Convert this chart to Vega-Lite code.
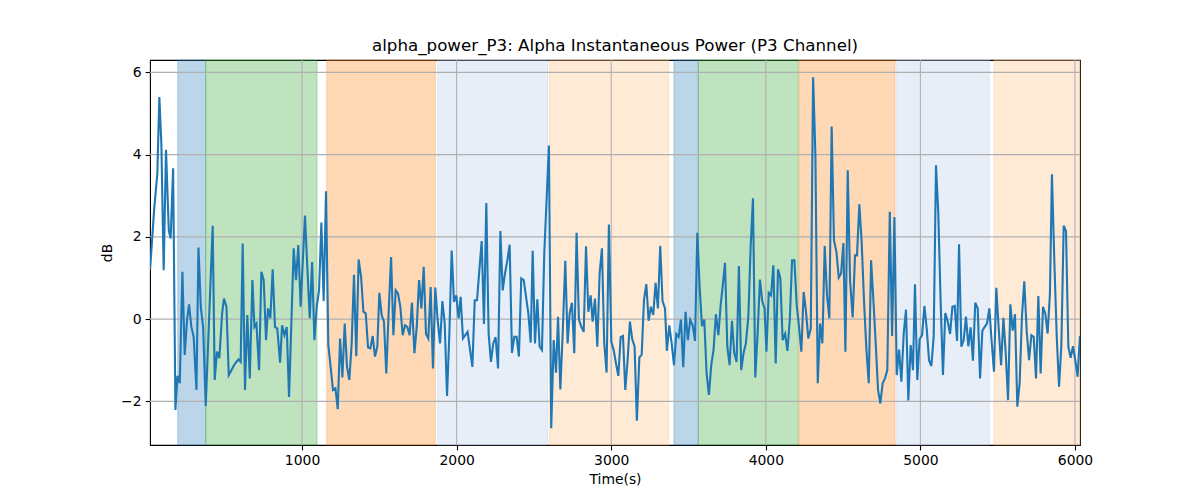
{
  "$schema": "https://vega.github.io/schema/vega-lite/v6.json",
  "width": 930,
  "height": 385,
  "autosize": "none",
  "padding": {"left": 150, "top": 60, "right": 120, "bottom": 55},
  "title": {
    "text": "alpha_power_P3: Alpha Instantaneous Power (P3 Channel)",
    "font": "DejaVu Sans",
    "fontSize": 16.7,
    "fontWeight": "normal",
    "color": "black",
    "anchor": "middle",
    "baseline": "bottom",
    "offset": -12
  },
  "config": {
    "font": "DejaVu Sans",
    "view": {"stroke": "black", "strokeWidth": 1.1},
    "axis": {
      "domain": false,
      "grid": false,
      "tickColor": "black",
      "tickSize": 4.9,
      "tickWidth": 1.1,
      "labelFont": "DejaVu Sans",
      "labelFontSize": 13.9,
      "labelColor": "black",
      "titleFont": "DejaVu Sans",
      "titleFontSize": 13.9,
      "titleFontWeight": "normal",
      "titleColor": "black"
    }
  },
  "datasets": {
    "spans": [
      {"start": 196, "end": 377, "phase": "phase 1"},
      {"start": 377, "end": 1097, "phase": "phase 2"},
      {"start": 1160, "end": 1862, "phase": "phase 3"},
      {"start": 1875, "end": 2589, "phase": "phase 4"},
      {"start": 2600, "end": 3372, "phase": "phase 5"},
      {"start": 3406, "end": 3563, "phase": "phase 1"},
      {"start": 3563, "end": 4210, "phase": "phase 2"},
      {"start": 4215, "end": 4835, "phase": "phase 3"},
      {"start": 4842, "end": 5446, "phase": "phase 4"},
      {"start": 5476, "end": 6032.5, "phase": "phase 5"}
    ],
    "xgrid": [{"t": 1000}, {"t": 2000}, {"t": 3000}, {"t": 4000}, {"t": 5000}, {"t": 6000}],
    "ygrid": [{"db": -2}, {"db": 0}, {"db": 2}, {"db": 4}, {"db": 6}],
    "power": [
      {"t": 17, "db": 1.2}, {"t": 43, "db": 2.65}, {"t": 64, "db": 3.54}, {"t": 77, "db": 5.4}, {"t": 90, "db": 4.26},
      {"t": 105, "db": 1.19}, {"t": 120, "db": 4.12}, {"t": 138, "db": 2.16}, {"t": 150, "db": 1.96}, {"t": 166, "db": 3.67},
      {"t": 181, "db": -2.21}, {"t": 194, "db": -1.38}, {"t": 209, "db": -1.56}, {"t": 226, "db": 1.15}, {"t": 241, "db": -0.87},
      {"t": 256, "db": -0.02}, {"t": 269, "db": 0.36}, {"t": 284, "db": -0.19}, {"t": 299, "db": -0.43}, {"t": 317, "db": -1.72},
      {"t": 330, "db": 1.74}, {"t": 345, "db": 0.3}, {"t": 360, "db": -0.19}, {"t": 377, "db": -2.11}, {"t": 422, "db": 2.27},
      {"t": 435, "db": -1.48}, {"t": 450, "db": -0.79}, {"t": 465, "db": -0.95}, {"t": 483, "db": 0.14}, {"t": 495, "db": 0.5},
      {"t": 511, "db": 0.3}, {"t": 526, "db": -1.36}, {"t": 543, "db": -1.24}, {"t": 560, "db": -1.12}, {"t": 575, "db": -1.04},
      {"t": 590, "db": -0.98}, {"t": 603, "db": -1.04}, {"t": 616, "db": 1.84}, {"t": 631, "db": -1.72}, {"t": 646, "db": 0.1},
      {"t": 662, "db": -1.44}, {"t": 679, "db": 0.95}, {"t": 692, "db": -0.19}, {"t": 705, "db": -0.11}, {"t": 722, "db": -1.24},
      {"t": 737, "db": 1.15}, {"t": 752, "db": 0.95}, {"t": 767, "db": -0.51}, {"t": 780, "db": 0.26}, {"t": 795, "db": 0.02},
      {"t": 810, "db": 1.21}, {"t": 825, "db": -0.19}, {"t": 840, "db": -0.23}, {"t": 858, "db": -1.06}, {"t": 871, "db": -0.15},
      {"t": 886, "db": -0.39}, {"t": 901, "db": -0.19}, {"t": 916, "db": -1.89}, {"t": 946, "db": 1.72}, {"t": 961, "db": 0.95},
      {"t": 976, "db": 1.8}, {"t": 991, "db": 0.3}, {"t": 1019, "db": 2.52}, {"t": 1034, "db": 1.27}, {"t": 1050, "db": 0.02},
      {"t": 1065, "db": 1.39}, {"t": 1080, "db": -0.51}, {"t": 1095, "db": 0.3}, {"t": 1110, "db": 0.7}, {"t": 1125, "db": 2.35},
      {"t": 1140, "db": 0.44}, {"t": 1155, "db": 3.11}, {"t": 1170, "db": -0.63}, {"t": 1185, "db": -1.16}, {"t": 1200, "db": -1.72},
      {"t": 1216, "db": -1.68}, {"t": 1231, "db": -2.19}, {"t": 1246, "db": -0.47}, {"t": 1261, "db": -1.42}, {"t": 1276, "db": -0.11},
      {"t": 1291, "db": -1.16}, {"t": 1306, "db": -1.48}, {"t": 1321, "db": -0.59}, {"t": 1336, "db": 1.08}, {"t": 1351, "db": -0.9},
      {"t": 1366, "db": 1.45}, {"t": 1382, "db": 1.03}, {"t": 1397, "db": 0.18}, {"t": 1412, "db": 0.14}, {"t": 1427, "db": -0.69},
      {"t": 1442, "db": -0.71}, {"t": 1457, "db": -0.41}, {"t": 1472, "db": -0.91}, {"t": 1487, "db": -0.67}, {"t": 1500, "db": 0.64},
      {"t": 1515, "db": 0.1}, {"t": 1530, "db": -0.06}, {"t": 1545, "db": -1.32}, {"t": 1560, "db": 0.14}, {"t": 1576, "db": 1.51},
      {"t": 1591, "db": -0.39}, {"t": 1606, "db": 0.7}, {"t": 1621, "db": 0.62}, {"t": 1636, "db": 0.3}, {"t": 1651, "db": -0.39},
      {"t": 1666, "db": -0.15}, {"t": 1681, "db": -0.19}, {"t": 1696, "db": -0.39}, {"t": 1711, "db": 0.4}, {"t": 1727, "db": -0.83},
      {"t": 1742, "db": -0.19}, {"t": 1757, "db": 0.95}, {"t": 1772, "db": 0.26}, {"t": 1787, "db": 1.27}, {"t": 1802, "db": -0.36},
      {"t": 1817, "db": -0.47}, {"t": 1832, "db": 0.78}, {"t": 1847, "db": -1.2}, {"t": 1862, "db": 0.77}, {"t": 1877, "db": -0.02},
      {"t": 1893, "db": -0.59}, {"t": 1908, "db": 0.44}, {"t": 1923, "db": -0.11}, {"t": 1938, "db": -1.87}, {"t": 1953, "db": -0.35},
      {"t": 1968, "db": 1.67}, {"t": 1983, "db": 0.42}, {"t": 1998, "db": 0.58}, {"t": 2013, "db": 0.02}, {"t": 2026, "db": 0.54},
      {"t": 2041, "db": -0.47}, {"t": 2056, "db": -0.39}, {"t": 2071, "db": -0.31}, {"t": 2087, "db": -0.75}, {"t": 2102, "db": -1.16},
      {"t": 2117, "db": 0.46}, {"t": 2132, "db": 0.46}, {"t": 2147, "db": 1.19}, {"t": 2162, "db": 1.9}, {"t": 2177, "db": -0.12},
      {"t": 2192, "db": 2.82}, {"t": 2207, "db": -0.35}, {"t": 2222, "db": -1.04}, {"t": 2237, "db": -0.59}, {"t": 2252, "db": -0.44},
      {"t": 2268, "db": -1.2}, {"t": 2283, "db": 2.14}, {"t": 2298, "db": 0.7}, {"t": 2313, "db": 1.11}, {"t": 2328, "db": 1.43},
      {"t": 2343, "db": 1.81}, {"t": 2358, "db": -0.82}, {"t": 2373, "db": -0.43}, {"t": 2388, "db": -0.43}, {"t": 2403, "db": -0.91},
      {"t": 2418, "db": 0.99}, {"t": 2434, "db": 0.95}, {"t": 2449, "db": 0.54}, {"t": 2464, "db": 0.14}, {"t": 2479, "db": -0.57},
      {"t": 2492, "db": 1.66}, {"t": 2507, "db": -0.59}, {"t": 2522, "db": 0.48}, {"t": 2537, "db": -0.67}, {"t": 2552, "db": -0.75},
      {"t": 2567, "db": 1.6}, {"t": 2582, "db": 2.9}, {"t": 2597, "db": 4.22}, {"t": 2612, "db": -2.65}, {"t": 2628, "db": -0.51},
      {"t": 2643, "db": -1.3}, {"t": 2656, "db": 0.06}, {"t": 2671, "db": -1.71}, {"t": 2686, "db": -0.35}, {"t": 2703, "db": 1.42},
      {"t": 2718, "db": -0.59}, {"t": 2731, "db": 0.14}, {"t": 2746, "db": 0.4}, {"t": 2761, "db": -0.83}, {"t": 2776, "db": 2.1},
      {"t": 2791, "db": -0.01}, {"t": 2807, "db": -0.19}, {"t": 2822, "db": -0.31}, {"t": 2837, "db": 1.77}, {"t": 2852, "db": 0.18},
      {"t": 2867, "db": 0.58}, {"t": 2880, "db": -0.06}, {"t": 2895, "db": 0.5}, {"t": 2910, "db": -0.67}, {"t": 2925, "db": 1.11},
      {"t": 2940, "db": 1.72}, {"t": 2955, "db": -0.59}, {"t": 2970, "db": -1.3}, {"t": 2985, "db": 2.3}, {"t": 3001, "db": -0.55},
      {"t": 3016, "db": -0.75}, {"t": 3031, "db": -1.08}, {"t": 3046, "db": -1.38}, {"t": 3061, "db": -0.44}, {"t": 3076, "db": -0.41},
      {"t": 3091, "db": -1.72}, {"t": 3106, "db": -1.0}, {"t": 3121, "db": -0.06}, {"t": 3136, "db": -0.49}, {"t": 3151, "db": -0.66},
      {"t": 3166, "db": -2.47}, {"t": 3182, "db": -0.93}, {"t": 3197, "db": -0.87}, {"t": 3212, "db": 0.46}, {"t": 3227, "db": 0.85},
      {"t": 3242, "db": -0.04}, {"t": 3257, "db": 0.3}, {"t": 3272, "db": 0.1}, {"t": 3287, "db": 0.88}, {"t": 3302, "db": 0.26},
      {"t": 3317, "db": 1.78}, {"t": 3332, "db": 0.44}, {"t": 3348, "db": 0.26}, {"t": 3360, "db": -0.77}, {"t": 3376, "db": -0.15},
      {"t": 3391, "db": -0.59}, {"t": 3406, "db": -1.12}, {"t": 3421, "db": -0.36}, {"t": 3436, "db": -0.43}, {"t": 3451, "db": -0.01},
      {"t": 3466, "db": -1.17}, {"t": 3481, "db": 0.18}, {"t": 3496, "db": -0.51}, {"t": 3511, "db": -0.02}, {"t": 3527, "db": -0.15},
      {"t": 3542, "db": -0.53}, {"t": 3557, "db": 2.1}, {"t": 3572, "db": 0.78}, {"t": 3587, "db": -0.17}, {"t": 3602, "db": -0.01},
      {"t": 3617, "db": -1.32}, {"t": 3632, "db": -1.84}, {"t": 3647, "db": -1.12}, {"t": 3662, "db": -0.75}, {"t": 3677, "db": 0.12},
      {"t": 3693, "db": -0.39}, {"t": 3708, "db": 0.34}, {"t": 3723, "db": 0.87}, {"t": 3736, "db": 1.37}, {"t": 3751, "db": -0.67},
      {"t": 3766, "db": -1.12}, {"t": 3781, "db": -0.04}, {"t": 3796, "db": -0.82}, {"t": 3811, "db": -1.04}, {"t": 3826, "db": 1.29},
      {"t": 3841, "db": -1.24}, {"t": 3856, "db": -0.83}, {"t": 3871, "db": -0.59}, {"t": 3887, "db": 0.06}, {"t": 3902, "db": 1.76},
      {"t": 3917, "db": 2.94}, {"t": 3932, "db": -1.42}, {"t": 3947, "db": -0.35}, {"t": 3962, "db": 0.96}, {"t": 3977, "db": 0.44},
      {"t": 3992, "db": 0.26}, {"t": 4004, "db": -0.79}, {"t": 4019, "db": 0.64}, {"t": 4034, "db": 0.58}, {"t": 4049, "db": 1.31},
      {"t": 4064, "db": -1.08}, {"t": 4079, "db": 1.21}, {"t": 4094, "db": 0.99}, {"t": 4109, "db": -0.51}, {"t": 4125, "db": -0.36},
      {"t": 4140, "db": -0.77}, {"t": 4155, "db": -0.02}, {"t": 4170, "db": 1.43}, {"t": 4185, "db": 1.43}, {"t": 4200, "db": 0.34},
      {"t": 4215, "db": -0.19}, {"t": 4230, "db": -0.79}, {"t": 4245, "db": 0.66}, {"t": 4260, "db": 0.18}, {"t": 4275, "db": -0.47},
      {"t": 4291, "db": -0.23}, {"t": 4306, "db": 5.88}, {"t": 4321, "db": 3.98}, {"t": 4336, "db": -1.56}, {"t": 4351, "db": -0.11},
      {"t": 4366, "db": -0.59}, {"t": 4381, "db": 1.78}, {"t": 4396, "db": 0.58}, {"t": 4411, "db": 0.02}, {"t": 4426, "db": 4.68},
      {"t": 4441, "db": 1.92}, {"t": 4457, "db": 1.63}, {"t": 4472, "db": 1.01}, {"t": 4487, "db": 1.11}, {"t": 4502, "db": 1.85},
      {"t": 4515, "db": -0.79}, {"t": 4530, "db": 3.62}, {"t": 4545, "db": 0.95}, {"t": 4562, "db": 0.04}, {"t": 4577, "db": 1.55},
      {"t": 4590, "db": 1.55}, {"t": 4605, "db": 2.79}, {"t": 4620, "db": 1.88}, {"t": 4636, "db": 0.38}, {"t": 4651, "db": -0.75},
      {"t": 4666, "db": -1.56}, {"t": 4681, "db": 1.43}, {"t": 4696, "db": 0.46}, {"t": 4711, "db": -0.59}, {"t": 4726, "db": -1.72},
      {"t": 4741, "db": -2.05}, {"t": 4756, "db": -1.56}, {"t": 4771, "db": -1.44}, {"t": 4786, "db": -1.24}, {"t": 4802, "db": 2.61},
      {"t": 4817, "db": -0.41}, {"t": 4832, "db": 2.48}, {"t": 4847, "db": -1.36}, {"t": 4862, "db": -0.74}, {"t": 4877, "db": -1.52},
      {"t": 4892, "db": -0.36}, {"t": 4907, "db": 0.23}, {"t": 4922, "db": -1.98}, {"t": 4937, "db": -0.63}, {"t": 4952, "db": -1.24},
      {"t": 4965, "db": 0.85}, {"t": 4980, "db": -1.48}, {"t": 4995, "db": -0.49}, {"t": 5011, "db": -0.39}, {"t": 5026, "db": 0.32},
      {"t": 5041, "db": -0.23}, {"t": 5056, "db": -1.0}, {"t": 5071, "db": -1.14}, {"t": 5086, "db": -0.43}, {"t": 5101, "db": 3.74},
      {"t": 5116, "db": 2.56}, {"t": 5131, "db": 0.42}, {"t": 5146, "db": -1.36}, {"t": 5161, "db": 0.15}, {"t": 5177, "db": -0.06},
      {"t": 5192, "db": -0.36}, {"t": 5207, "db": 0.3}, {"t": 5222, "db": 0.32}, {"t": 5237, "db": -0.53}, {"t": 5250, "db": 1.82},
      {"t": 5265, "db": -0.67}, {"t": 5280, "db": -0.51}, {"t": 5295, "db": 0.06}, {"t": 5310, "db": -0.66}, {"t": 5325, "db": -0.2},
      {"t": 5340, "db": -1.01}, {"t": 5355, "db": 0.4}, {"t": 5371, "db": 0.26}, {"t": 5386, "db": -1.44}, {"t": 5401, "db": -0.28},
      {"t": 5416, "db": -0.19}, {"t": 5431, "db": -0.11}, {"t": 5446, "db": 0.26}, {"t": 5461, "db": -0.55}, {"t": 5476, "db": -1.28},
      {"t": 5491, "db": 0.76}, {"t": 5506, "db": -0.19}, {"t": 5522, "db": -1.12}, {"t": 5537, "db": 0.03}, {"t": 5552, "db": -0.83},
      {"t": 5567, "db": -1.97}, {"t": 5582, "db": 0.36}, {"t": 5597, "db": -0.28}, {"t": 5612, "db": 0.12}, {"t": 5627, "db": -2.13},
      {"t": 5642, "db": -1.56}, {"t": 5657, "db": 0.06}, {"t": 5672, "db": 0.92}, {"t": 5688, "db": -0.31}, {"t": 5703, "db": -1.0},
      {"t": 5718, "db": -0.39}, {"t": 5733, "db": -0.43}, {"t": 5748, "db": -1.44}, {"t": 5763, "db": 0.56}, {"t": 5778, "db": -1.32},
      {"t": 5793, "db": 0.3}, {"t": 5808, "db": 0.14}, {"t": 5823, "db": -0.35}, {"t": 5838, "db": 0.62}, {"t": 5851, "db": 3.52},
      {"t": 5866, "db": 1.47}, {"t": 5882, "db": -0.43}, {"t": 5897, "db": -1.64}, {"t": 5912, "db": -0.63}, {"t": 5927, "db": 2.27},
      {"t": 5942, "db": 2.14}, {"t": 5957, "db": -0.67}, {"t": 5972, "db": -0.94}, {"t": 5987, "db": -0.66}, {"t": 6002, "db": -1.0},
      {"t": 6017, "db": -1.4}, {"t": 6032, "db": -0.41}
    ]
  },
  "layer": [
    {
      "data": {"name": "spans"},
      "mark": {"type": "rect", "fillOpacity": 0.3, "strokeOpacity": 0.3, "strokeWidth": 1},
      "encoding": {
        "x": {
          "field": "start",
          "type": "quantitative",
          "scale": {"domain": [16.5, 6032.5], "nice": false, "zero": false},
          "axis": {"values": [1000, 2000, 3000, 4000, 5000, 6000], "format": "d", "title": "Time(s)", "labelPadding": 4, "titlePadding": 5}
        },
        "x2": {"field": "end"},
        "fill": {
          "field": "phase",
          "type": "nominal",
          "scale": {"domain": ["phase 1", "phase 2", "phase 3", "phase 4", "phase 5"], "range": ["#1f77b4", "#2ca02c", "#ff7f0e", "#aec7e8", "#ffbb78"]},
          "legend": null
        },
        "stroke": {
          "field": "phase",
          "type": "nominal",
          "scale": {"domain": ["phase 1", "phase 2", "phase 3", "phase 4", "phase 5"], "range": ["#1f77b4", "#2ca02c", "#ff7f0e", "#aec7e8", "#ffbb78"]},
          "legend": null
        }
      }
    },
    {
      "data": {"name": "xgrid"},
      "mark": {"type": "rule", "color": "#b0b0b0", "strokeWidth": 1.1},
      "encoding": {"x": {"field": "t", "type": "quantitative"}}
    },
    {
      "data": {"name": "ygrid"},
      "mark": {"type": "rule", "color": "#b0b0b0", "strokeWidth": 1.1},
      "encoding": {
        "y": {
          "field": "db",
          "type": "quantitative",
          "scale": {"domain": [-3.06, 6.3], "nice": false, "zero": false},
          "axis": {"values": [-2, 0, 2, 4, 6], "format": "d", "title": "dB", "labelPadding": 4, "titlePadding": 6}
        }
      }
    },
    {
      "data": {"name": "power"},
      "mark": {"type": "line", "color": "#1f77b4", "strokeWidth": 2.1, "clip": true},
      "encoding": {
        "x": {"field": "t", "type": "quantitative"},
        "y": {"field": "db", "type": "quantitative"}
      }
    }
  ]
}
